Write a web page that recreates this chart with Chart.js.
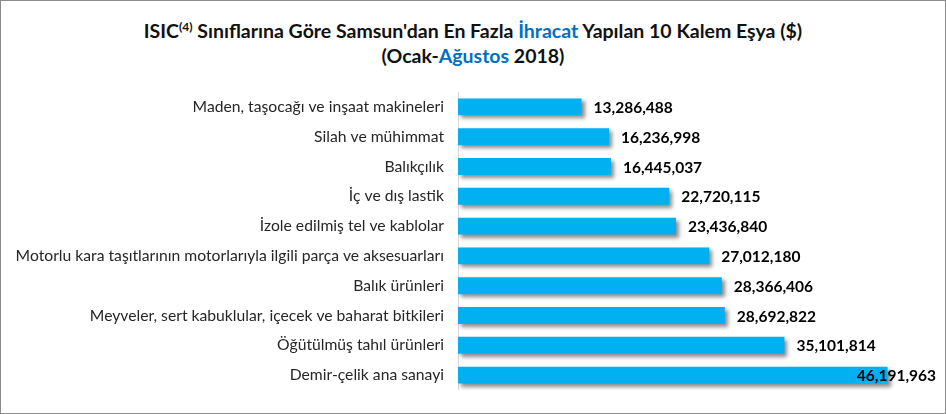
<!DOCTYPE html>
<html>
<head>
<meta charset="utf-8">
<script src="https://cdn.jsdelivr.net/npm/chart.js@4"></script>
<style>
  body { margin: 0; background: #fff; }
  #wrap {
    position: relative; width: 946px; height: 414px;
    box-sizing: border-box; border: 1px solid #8c8c8c; overflow: hidden;
  }
  #title {
    position: absolute; left: 0; top: 17px; width: 100%;
    text-align: center; font-family: Lato, sans-serif; font-weight: bold;
    font-size: 19.5px; line-height: 25px; color: #111;
  }
  #title .blue { color: #0070c0; }
  #title sup { font-size: 12px; line-height: 0; }
  #chartIhracat { position: absolute; left: 0; top: 91px; }
</style>
</head>
<body>
<div id="wrap">
  <div id="title">ISIC<sup>(4)</sup> Sınıflarına Göre Samsun'dan En Fazla <span class="blue">İhracat</span> Yapılan 10 Kalem Eşya ($)<br>(Ocak-<span class="blue">Ağustos</span> 2018)</div>
  <canvas id="chartIhracat" width="944" height="298"></canvas>
</div>
<script>
// Kalemler ve ihracat değerleri ($)
const kalemler = [
  "Maden, taşocağı ve inşaat makineleri",
  "Silah ve mühimmat",
  "Balıkçılık",
  "İç ve dış lastik",
  "İzole edilmiş tel ve kablolar",
  "Motorlu kara taşıtlarının motorlarıyla ilgili parça ve aksesuarları",
  "Balık ürünleri",
  "Meyveler, sert kabuklular, içecek ve baharat bitkileri",
  "Öğütülmüş tahıl ürünleri",
  "Demir-çelik ana sanayi"
];
const degerler = [13286488, 16236998, 16445037, 22720115, 23436840, 27012180, 28366406, 28692822, 35101814, 46191963];

const grafik = document.getElementById("chartIhracat");

// Çubuklara gölge
const golge = {
  id: "golge",
  beforeDatasetsDraw(chart) {
    const ctx = chart.ctx;
    ctx.save();
    ctx.shadowColor = "rgba(0,0,0,0.45)";
    ctx.shadowBlur = 4;
    ctx.shadowOffsetX = 3;
    ctx.shadowOffsetY = 3;
  },
  afterDatasetsDraw(chart) {
    chart.ctx.restore();
  }
};

// Değer etiketleri (çubuğun sağında)
const etiketler = {
  id: "etiketler",
  afterDraw(chart) {
    const ctx = chart.ctx;
    const meta = chart.getDatasetMeta(0);
    ctx.save();
    ctx.font = "bold 15.5px Lato, sans-serif";
    ctx.fillStyle = "#000";
    ctx.textBaseline = "middle";
    meta.data.forEach((bar, i) => {
      const txt = degerler[i].toLocaleString("en-US");
      const w = ctx.measureText(txt).width;
      const x = Math.min(bar.x + 12, chart.width - 9 - w); // sağ kenarda kalsın
      ctx.fillText(txt, x, bar.y + 1);
    });
    ctx.restore();
  }
};

new Chart(grafik, {
  type: "bar",
  data: {
    labels: kalemler,
    datasets: [
      {
        label: "İhracat ($)",
        data: degerler,
        backgroundColor: "#00b0f0",
        borderWidth: 0,
        barPercentage: 0.8,
        categoryPercentage: 0.71
      }
    ]
  },
  options: {
    indexAxis: "y",
    responsive: false,
    animation: false,
    layout: { padding: { top: 0, right: 22, bottom: 0, left: 0 } },
    plugins: {
      legend: { display: false },
      tooltip: { enabled: false }
    },
    scales: {
      x: {
        display: false,
        min: 0,
        max: 50000000
      },
      y: {
        afterFit(scale) {
          scale.width = 457; // eksen çizgisi ~457px
          scale.paddingTop = 0;
          scale.paddingBottom = 0;
        },
        grid: { display: false, drawTicks: false },
        border: { color: "#d9d9d9" },
        ticks: {
          color: "#262626",
          padding: 14,
          font: { family: "Lato, sans-serif", size: 15.7 }
        }
      }
    }
  },
  plugins: [golge, etiketler]
});
</script>
</body>
</html>
